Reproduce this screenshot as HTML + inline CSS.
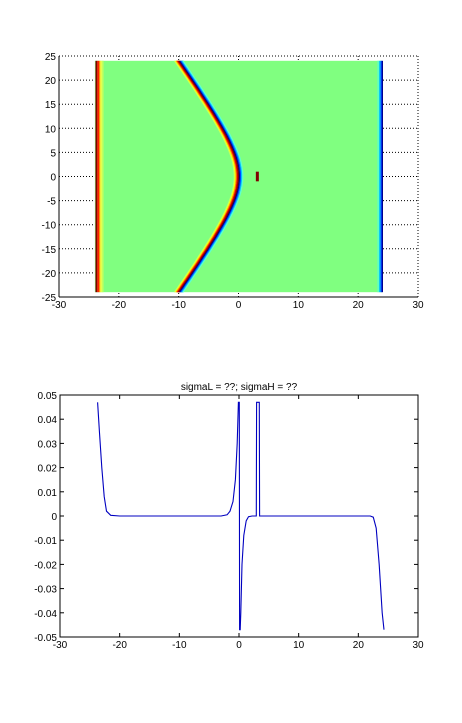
<!DOCTYPE html>
<html><head><meta charset="utf-8"><style>
body{margin:0;background:#fff;font-family:"Liberation Sans",sans-serif}
svg text{font-family:"Liberation Sans",sans-serif;font-size:10px;fill:#000}
</style></head><body>
<svg id="s" width="462" height="718" xmlns="http://www.w3.org/2000/svg"></svg>
<script>
const topXTicks=[-30,-20,-10,0,10,20,30];
const topYTicks=[25,20,15,10,5,0,-5,-10,-15,-20,-25];
const botXTicks=[-30,-20,-10,0,10,20,30];
const botYTicks=[0.05,0.04,0.03,0.02,0.01,0,-0.01,-0.02,-0.03,-0.04,-0.05];
const botYLabels=['0.05','0.04','0.03','0.02','0.01','0','-0.01','-0.02','-0.03','-0.04','-0.05'];
const seriesX=[-23.7,-23.4,-23,-22.6,-22.2,-21.5,-20,-3,-2,-1.5,-1,-0.6,-0.3,-0.1,0.05,0.1,0.2,0.3,0.5,0.8,1.2,1.6,2.2,2.9,2.95,3.4,3.45,22,22.5,23,23.5,24,24.3];
const seriesY=[0.047,0.035,0.02,0.008,0.002,0.0003,0,0,0.0005,0.002,0.006,0.015,0.03,0.047,0.047,-0.047,-0.047,-0.04,-0.02,-0.008,-0.002,-0.0003,0,0,0.047,0.047,0,0,-0.0005,-0.005,-0.02,-0.04,-0.047];
const frontX0=5, frontK=0.589;
const ns='http://www.w3.org/2000/svg';
const s=document.getElementById('s');
function el(t,a,p){const e=document.createElementNS(ns,t);for(const k in a)e.setAttribute(k,a[k]);(p||s).appendChild(e);return e;}
const T={l:59,r:418,t:56,b:297};
const tx=v=>T.l+(v+30)/60*(T.r-T.l);
const ty=v=>T.t+(25-v)/50*(T.b-T.t);
const gTop=el('g',{});


topYTicks.forEach(v=>{el('line',{x1:T.l,x2:T.r,y1:ty(v),y2:ty(v),stroke:'#000','stroke-width':1,'stroke-dasharray':'1,2'},gTop);});
topXTicks.forEach(v=>{el('line',{x1:tx(v),x2:tx(v),y1:T.t,y2:T.b,stroke:'#000','stroke-width':1,'stroke-dasharray':'1,2'},gTop);});
const hm=el('rect',{x:tx(-24),y:ty(24),width:tx(24)-tx(-24),height:ty(-24)-ty(24),fill:'#80ff80'},gTop);


[[-23.9,0.3,'#800000'],[-23.6,0.3,'#ff2000'],[-23.3,0.2,'#ff9000'],[-23.1,0.25,'#ffff40'],[-22.85,0.3,'#c0ff60']].forEach(b=>{
 const r=el('rect',{x:tx(b[0]),y:ty(24),width:b[1]*6,height:ty(-24)-ty(24),fill:b[2]},gTop);
 });
[[23.2,0.3,'#60ffc0'],[23.5,0.25,'#00c0ff'],[23.75,0.25,'#0040ff'],[23.95,0.2,'#000090']].forEach(b=>{
 const r=el('rect',{x:tx(b[0]),y:ty(24),width:b[1]*6,height:ty(-24)-ty(24),fill:b[2]},gTop);
 });
const layers=[[-0.7,'#c0ff60'],[-0.52,'#ffff00'],[-0.36,'#ff8000'],[-0.18,'#e00000'],[0,'#800000'],[0.18,'#000080'],[0.36,'#0040ff'],[0.54,'#00c0ff'],[0.72,'#60ffd0']];
layers.forEach(L=>{let d='';for(let y=-24;y<=24.01;y+=0.5){const x=frontX0-Math.sqrt(frontX0*frontX0+(frontK*y)**2)+L[0];d+=(d?'L':'M')+tx(x).toFixed(1)+','+ty(y).toFixed(1);}
 const p=el('path',{d:d,fill:'none',stroke:L[1],'stroke-width':1.3},gTop);
 });
const src=el('rect',{x:tx(2.9),y:ty(1),width:3,height:ty(-1)-ty(1),fill:'#800000'},gTop);

el('line',{x1:T.l,x2:T.l,y1:T.t,y2:T.b,stroke:'#000'},gTop);
el('line',{x1:T.l,x2:T.r,y1:T.b,y2:T.b,stroke:'#000'},gTop);
topXTicks.forEach(v=>{const t=el('text',{x:tx(v),y:T.b+11,'text-anchor':'middle'},gTop);t.textContent=v;
 });
topYTicks.forEach(v=>{const t=el('text',{x:T.l-3,y:ty(v)+4,'text-anchor':'end'},gTop);t.textContent=v;
 });
const B={l:60,r:418,t:395,b:637};
const bx=v=>B.l+(v+30)/60*(B.r-B.l);
const by=v=>B.t+(0.05-v)/0.1*(B.b-B.t);
const gB=el('g',{});


el('rect',{x:B.l,y:B.t,width:B.r-B.l,height:B.b-B.t,fill:'none',stroke:'#000'},gB);
botXTicks.forEach(v=>{el('line',{x1:bx(v),x2:bx(v),y1:B.b,y2:B.b-4,stroke:'#000'},gB);el('line',{x1:bx(v),x2:bx(v),y1:B.t,y2:B.t+4,stroke:'#000'},gB);
 const t=el('text',{x:bx(v),y:B.b+11,'text-anchor':'middle'},gB);t.textContent=v;
 });
botYTicks.forEach((v,i)=>{el('line',{x1:B.l,x2:B.l+4,y1:by(v),y2:by(v),stroke:'#000'},gB);el('line',{x1:B.r,x2:B.r-4,y1:by(v),y2:by(v),stroke:'#000'},gB);
 const t=el('text',{x:B.l-3,y:by(v)+4,'text-anchor':'end'},gB);t.textContent=botYLabels[i];
 });
let d='';seriesX.forEach((x,i)=>{d+=(i?'L':'M')+bx(x).toFixed(1)+','+by(seriesY[i]).toFixed(1);});
const line=el('path',{d:d,fill:'none',stroke:'#0000c0','stroke-width':1.1},gB);

const title=el('text',{x:(B.l+B.r)/2,y:B.t-5,'text-anchor':'middle'},gB);title.textContent='sigmaL = ??; sigmaH = ??';

</script>
</body></html>
